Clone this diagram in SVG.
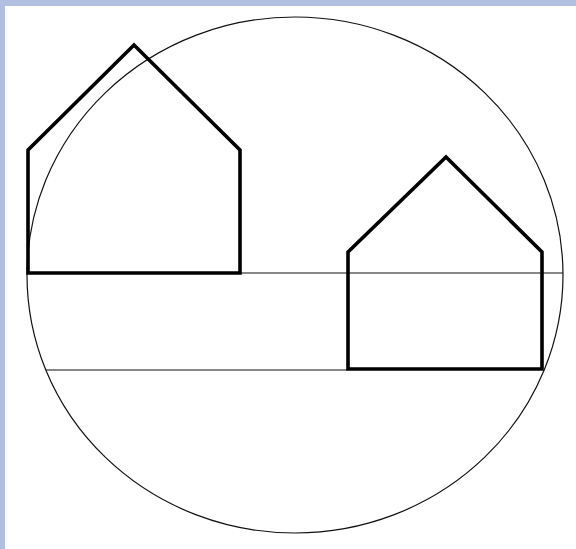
<svg xmlns="http://www.w3.org/2000/svg" width="576" height="549" viewBox="0 0 576 549">
<style>
.thin{fill:none;stroke:#111;stroke-width:1.2}
.house{fill:none;stroke:#000;stroke-width:3.6;stroke-linejoin:miter}
</style>
<rect x="0" y="0" width="576" height="549" fill="#b3bfe1"/>
<rect x="5" y="6" width="571" height="543" fill="#ffffff"/>
<ellipse cx="295" cy="275" rx="268" ry="258" class="thin"/>
<g id="lines">
<line x1="27" y1="273" x2="563" y2="273" class="thin"/>
<line x1="46" y1="370" x2="348" y2="370" class="thin"/>
</g>
<g id="house-left">
<polygon points="28,273 28,150 134,45 240,150 240,273" class="house"/>
</g>
<g id="house-right">
<polygon points="348,369 348,252 446,157 542,252 542,369" class="house"/>
</g>
</svg>
